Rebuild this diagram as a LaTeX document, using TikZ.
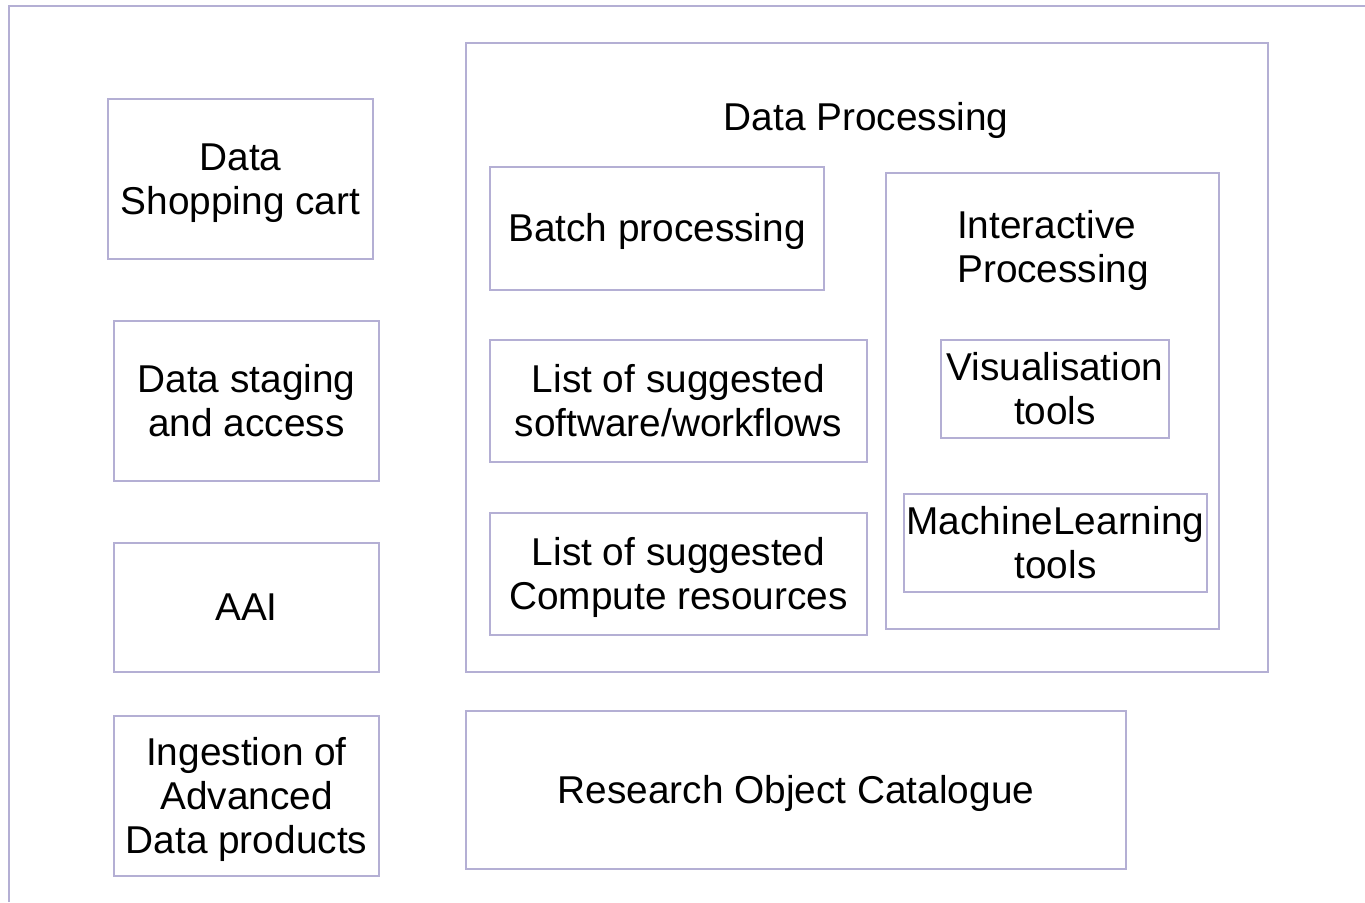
\documentclass[tikz,border=0pt]{standalone}
\usepackage{fontspec}
\setmainfont{Liberation Sans}
\definecolor{frameline}{RGB}{180,175,212}
% fixed line box: ascent 0.905em, descent 0.212em
\newcommand\lb{\rule[-0.212em]{0pt}{1.117em}}
\tikzset{
  x=1pt, y=-1pt,
  every node/.style={font=\fontsize{38.8}{42.5}\selectfont, text=black},
  box/.style={draw=frameline, line width=1.4pt, rectangle, inner sep=0pt, align=center},
  caption/.style={inner sep=0pt},
}
\begin{document}
\begin{tikzpicture}
\useasboundingbox (0,0) rectangle (1365,902);
% page frame (only its top and left edges fall inside the page)
\draw[frameline, line width=1.4pt] (9,902) -- (9,6) -- (1365,6);

% left column
\node[box, minimum width=265, minimum height=160] (cart) at (240.5,179) {\lb Data\\\lb Shopping cart};
\node[box, minimum width=265, minimum height=160] (staging) at (246.5,401) {\lb Data staging\\\lb and access};
\node[box, minimum width=265, minimum height=129] (aai) at (246.5,607.5) {\lb AAI};
\node[box, minimum width=265, minimum height=160] (ingest) at (246.5,796) {\lb Ingestion of\\\lb Advanced\\\lb Data products};

% data processing group
\node[box, minimum width=802, minimum height=629] (dp) at (867,357.5) {};
\node[caption] (dptitle) at (866,117) {\lb Data Processing};
\node[box, minimum width=334, minimum height=123] (batch) at (657,228.5) {\lb Batch processing};
\node[box, minimum width=377, minimum height=122] (soft) at (678.5,401) {\lb List of suggested\\\lb software/workflows};
\node[box, minimum width=377, minimum height=122] (comp) at (678.5,574) {\lb List of suggested\\\lb Compute resources};

% interactive processing sub-group
\node[box, minimum width=333, minimum height=456] (inter) at (1052.5,401) {};
\node[caption, anchor=west, align=left] (intertitle) at (957,247) {\lb Interactive\\\lb Processing};
\node[box, minimum width=228, minimum height=98] (vis) at (1055,389) {\lb Visualisation\\\lb tools};
\node[box, minimum width=303, minimum height=98] (ml) at (1055.5,543) {\lb MachineLearning\\\lb tools};

% catalogue
\node[box, minimum width=660, minimum height=158] (roc) at (796,790) {\lb Research Object Catalogue};
\end{tikzpicture}
\end{document}
